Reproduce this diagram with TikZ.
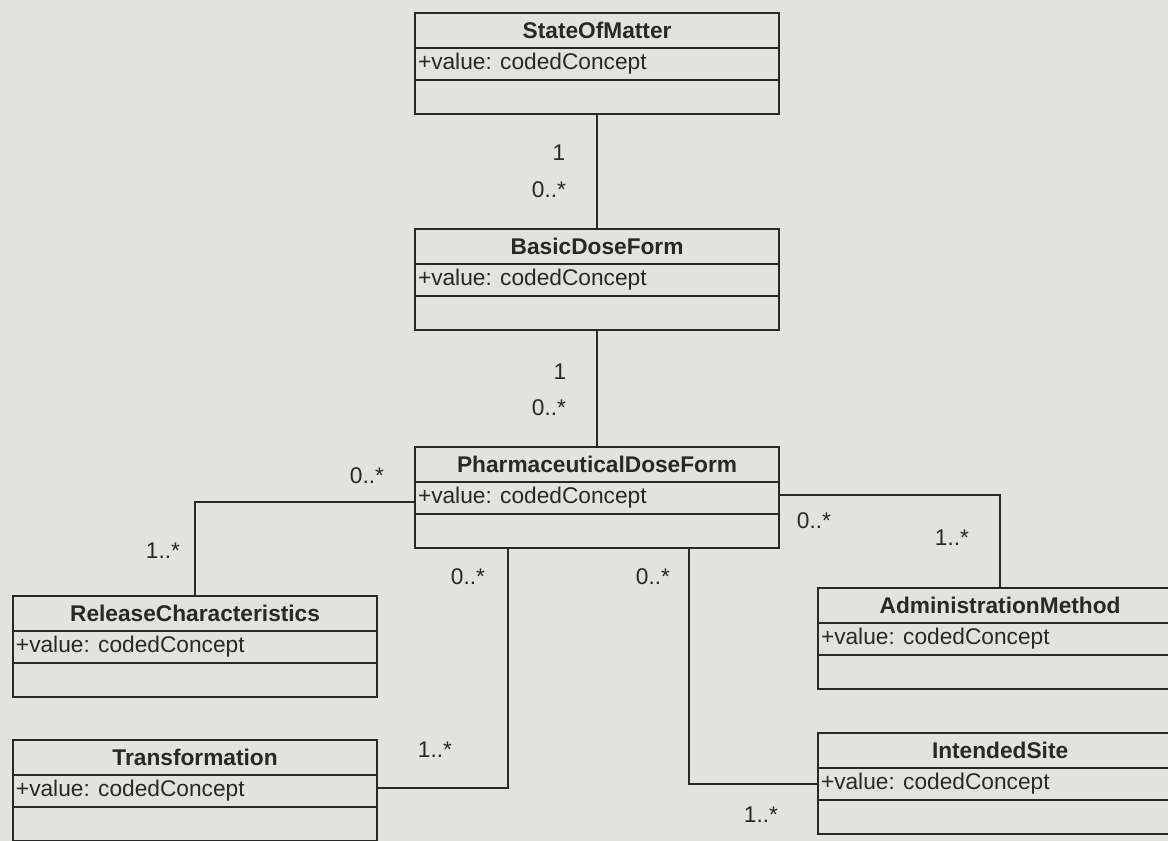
\documentclass[tikz,border=0pt]{standalone}
\usepackage{fontspec}
\setmainfont{Liberation Sans}
\definecolor{paper}{RGB}{226,226,223}
\definecolor{ink}{RGB}{40,40,40}

\begin{document}
\begin{tikzpicture}[x=1pt, y=-1pt]


% GLOBAL SETTINGS
\newcommand{\attr}{+value: codedConcept}
\newcommand{\umlfont}{\fontsize{22.7}{26}\selectfont}

% SHARED CODE
\newlength{\boxw}
\setlength{\boxw}{364pt}
\newlength{\boxh}
\setlength{\boxh}{101pt}
\tikzset{
  classbox/.style={draw=ink, line width=2.2pt, anchor=north west,
    minimum width=\boxw, minimum height=\boxh, inner sep=0pt},
  classname/.style={text=ink, font=\umlfont\bfseries, inner sep=0pt},
  classattr/.style={text=ink, font=\umlfont, anchor=west, inner sep=0pt},
  mult/.style={text=ink, font=\umlfont, inner sep=0pt}
}
\pgfkeys{/tikz/every path/.style={ink, line width=2pt}} % thin dark lines
% class with name, attribute and empty operations part
\newcommand{\umlclass}[4]{
\node[classbox] (#1) at (#2,#3) {};
\draw ([yshift=-36pt]#1.north west) -- ([yshift=-36pt]#1.north east);
\draw ([yshift=-68pt]#1.north west) -- ([yshift=-68pt]#1.north east);
\node[classname] (#1-name) at ([yshift=-18pt]#1.north) {#4};
\node[classattr] (#1-attr) at ([xshift=3pt,yshift=-52pt]#1.north west) {\attr};
}

% paper
\fill[paper] (0,0) rectangle (1168,841);
\useasboundingbox (0,0) rectangle (1168,841);

% CLASSES
\umlclass{SOM}{414}{12}{StateOfMatter}
\umlclass{BDF}{414}{228}{BasicDoseForm}
\umlclass{PDF}{414}{446}{PharmaceuticalDoseForm}
\umlclass{RC}{12}{595}{ReleaseCharacteristics}
\umlclass{TR}{12}{739}{Transformation}
\umlclass{AM}{817}{587}{AdministrationMethod}
\umlclass{IS}{817}{732}{IntendedSite}

% EDGES
\draw (SOM) -- (BDF) ;
\draw (BDF) -- (PDF) ;
\draw ([yshift=-4pt]PDF.west) -| (RC) ;
\draw ([yshift=3pt]PDF.east) -| (AM) ;
\draw ([xshift=-89pt]PDF.south) |- ([yshift=3pt]TR.east) ;
\draw ([xshift=92pt]PDF.south) |- (IS) ;

% MULTIPLICITIES
\node[mult] (m1) at (559,153) {1};
\node[mult] (m2) at (549,190) {0..*};
\node[mult] (m3) at (560,372) {1};
\node[mult] (m4) at (549,408) {0..*};
\node[mult] (m5) at (367,476) {0..*};
\node[mult] (m6) at (163,551) {1..*};
\node[mult] (m7) at (468,577) {0..*};
\node[mult] (m8) at (653,577) {0..*};
\node[mult] (m9) at (814,521) {0..*};
\node[mult] (m10) at (952,538) {1..*};
\node[mult] (m11) at (435,750) {1..*};
\node[mult] (m12) at (761,815) {1..*};

\end{tikzpicture}
\end{document}
